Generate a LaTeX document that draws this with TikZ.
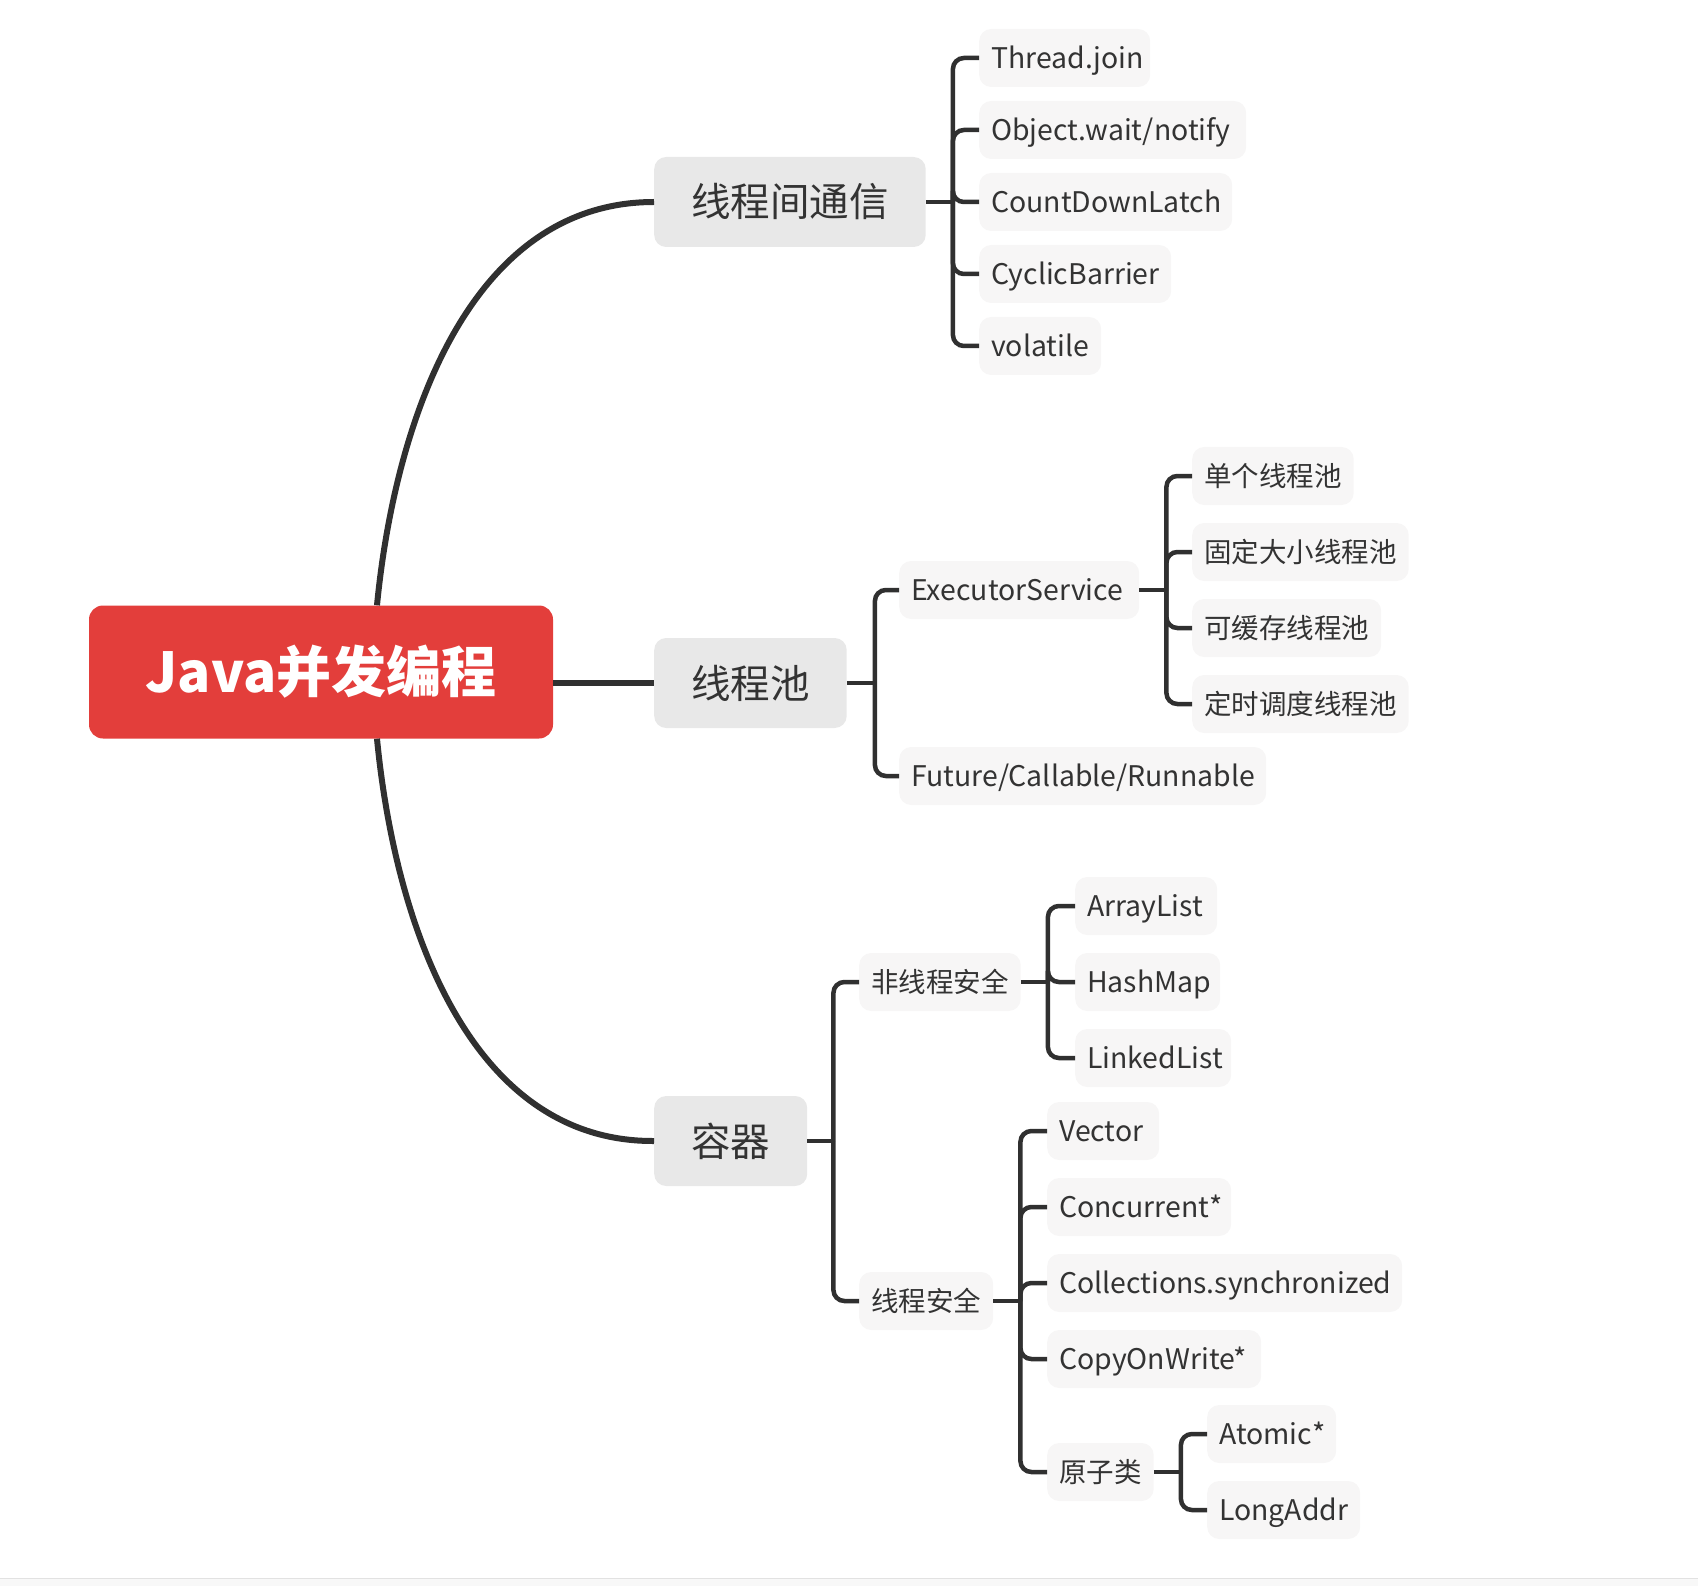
\documentclass[tikz,border=0pt]{standalone}
\usepackage{fontspec}
\setmainfont{Noto Sans CJK SC}
\usetikzlibrary{calc}
\definecolor{rootred}{HTML}{E33E3B}
\definecolor{midgray}{HTML}{E8E8E8}
\definecolor{leafgray}{HTML}{F7F6F6}
\definecolor{ink}{HTML}{333333}
\definecolor{linec}{HTML}{303030}
\definecolor{stripfill}{HTML}{F8F8F8}
\definecolor{stripline}{HTML}{E2E2E2}
\newcommand{\lb}[2]{\makebox[\dimexpr#1pt-24pt\relax][l]{\fontsize{28.4}{32}\selectfont#2}}
\begin{document}
\begin{tikzpicture}[x=1pt,y=-1pt,
 rootbox/.style={fill=rootred, rounded corners=14pt, text=white, font=\fontsize{55}{60}\selectfont\bfseries, minimum width=464pt, minimum height=133pt, inner sep=0pt},
 midbox/.style={fill=midgray, rounded corners=12pt, text=ink, font=\fontsize{39.5}{44}\selectfont, minimum height=90pt, inner xsep=37pt, inner ysep=0pt, anchor=west},
 leafbox/.style={fill=leafgray, rounded corners=12pt, text=ink, font=\fontsize{27.5}{32}\selectfont, minimum height=58pt, inner xsep=12pt, inner ysep=0pt, anchor=west, text height=24pt, text depth=3pt},
 trunk/.style={draw=linec, line width=6pt},
 twig/.style={draw=linec, line width=4.5pt, rounded corners=11pt}
]
\useasboundingbox (0,0) rectangle (1698,1586);
\fill[stripfill] (0,1578) rectangle (1698,1586);
\draw[stripline, line width=1pt] (0,1578) -- (1698,1578);

% root and first level
\node[rootbox] (root) at (321,672) {Java并发编程};
\node[midbox] (comm) at (654,202) {线程间通信};
\node[midbox] (pool) at (654,683) {线程池};
\node[midbox] (cont) at (654,1141) {容器};

% thread communication
\node[leafbox] (tj) at (979,58) {\lb{171}{Thread.join}};
\node[leafbox] (ow) at (979,130) {\lb{267}{Object.wait/notify}};
\node[leafbox] (cd) at (979,202) {\lb{253}{CountDownLatch}};
\node[leafbox] (cb) at (979,274) {\lb{192}{CyclicBarrier}};
\node[leafbox] (vo) at (979,346) {\lb{122}{volatile}};

% thread pool
\node[leafbox] (es) at (899,590) {\lb{240}{ExecutorService}};
\node[leafbox] (fu) at (899,776) {\lb{367}{Future/Callable/Runnable}};
\node[leafbox] (p1) at (1192,476) {单个线程池};
\node[leafbox] (p2) at (1192,552) {固定大小线程池};
\node[leafbox] (p3) at (1192,628) {可缓存线程池};
\node[leafbox] (p4) at (1192,704) {定时调度线程池};

% containers
\node[leafbox] (nts) at (859,982) {非线程安全};
\node[leafbox] (ts) at (859,1301) {线程安全};
\node[leafbox] (al) at (1075,906) {\lb{142}{ArrayList}};
\node[leafbox] (hm) at (1075,982) {\lb{145}{HashMap}};
\node[leafbox] (ll) at (1075,1058) {\lb{156}{LinkedList}};
\node[leafbox] (ve) at (1047,1131) {\lb{112}{Vector}};
\node[leafbox] (cc) at (1047,1207) {\lb{184}{Concurrent*}};
\node[leafbox] (cs) at (1047,1283) {\lb{355}{Collections.synchronized}};
\node[leafbox] (cw) at (1047,1359) {\lb{214}{CopyOnWrite*}};
\node[leafbox] (at) at (1047,1472) {原子类};
\node[leafbox] (am) at (1207,1434) {\lb{129}{Atomic*}};
\node[leafbox] (la) at (1207,1510) {\lb{153}{LongAddr}};

% main connectors
\draw[trunk] ([xshift=56pt]root.north) .. controls (395,420) and (470,202) .. (comm.west);
\draw[trunk] ([xshift=56pt]root.south) .. controls (395,925) and (470,1142) .. (cont.west);
\draw[trunk] (root.east |- pool.west) -- (pool.west);

% brackets
\coordinate (s1) at ($(comm.east)+(27,0)$);
\draw[twig] (comm.east) -- (s1);
\foreach \n in {tj,ow,cd,cb,vo} \draw[twig] (s1) |- (\n.west);

\coordinate (s2) at ($(pool.east)+(28,0)$);
\draw[twig] (pool.east) -- (s2);
\foreach \n in {es,fu} \draw[twig] (s2) |- (\n.west);

\coordinate (s3) at ($(es.east)+(27,0)$);
\draw[twig] (es.east) -- (s3);
\foreach \n in {p1,p2,p3,p4} \draw[twig] (s3) |- (\n.west);

\coordinate (s4) at ($(cont.east)+(26,0)$);
\draw[twig] (cont.east) -- (s4);
\foreach \n in {nts,ts} \draw[twig] (s4) |- (\n.west);

\coordinate (s5) at ($(nts.east)+(27,0)$);
\draw[twig] (nts.east) -- (s5);
\foreach \n in {al,hm,ll} \draw[twig] (s5) |- (\n.west);

\coordinate (s6) at ($(ts.east)+(27,0)$);
\draw[twig] (ts.east) -- (s6);
\foreach \n in {ve,cc,cs,cw,at} \draw[twig] (s6) |- (\n.west);

\coordinate (s7) at ($(at.east)+(27,0)$);
\draw[twig] (at.east) -- (s7);
\foreach \n in {am,la} \draw[twig] (s7) |- (\n.west);
\end{tikzpicture}
\end{document}
